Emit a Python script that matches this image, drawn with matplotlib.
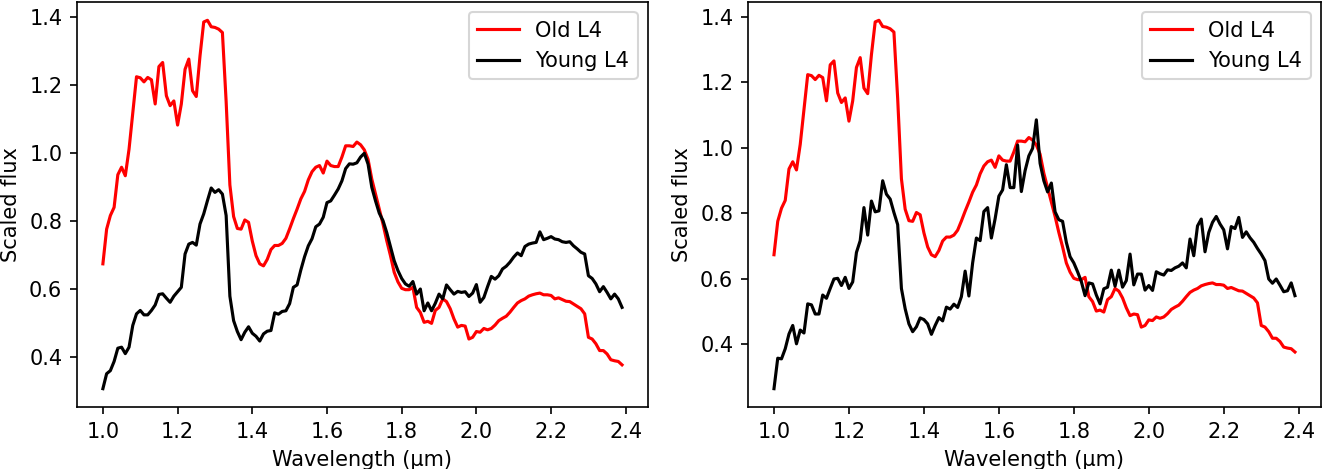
import numpy as np
import matplotlib
matplotlib.use("Agg")
import matplotlib.pyplot as plt

# wavelength grid (um), 0.01 um steps from 1.00 to 2.39
wavelength = np.linspace(1.0, 2.39, 140)

old_l4 = [
    0.673, 0.775, 0.815, 0.839, 0.935, 0.957, 0.932, 1.010, 1.118, 1.223,
    1.220, 1.208, 1.221, 1.214, 1.143, 1.253, 1.265, 1.167, 1.138, 1.152,
    1.081, 1.143, 1.245, 1.275, 1.182, 1.165, 1.284, 1.384, 1.389, 1.370,
    1.368, 1.363, 1.353, 1.150, 0.905, 0.812, 0.777, 0.775, 0.802, 0.795,
    0.740, 0.697, 0.673, 0.667, 0.686, 0.715, 0.727, 0.727, 0.733, 0.748,
    0.776, 0.806, 0.834, 0.864, 0.886, 0.920, 0.944, 0.957, 0.962, 0.940,
    0.975, 0.962, 0.959, 0.959, 0.987, 1.020, 1.020, 1.018, 1.031, 1.023,
    1.008, 0.980, 0.922, 0.878, 0.834, 0.790, 0.741, 0.697, 0.648, 0.620,
    0.601, 0.597, 0.597, 0.604, 0.545, 0.530, 0.501, 0.504, 0.498, 0.536,
    0.545, 0.570, 0.562, 0.541, 0.511, 0.487, 0.492, 0.490, 0.452, 0.457,
    0.474, 0.472, 0.483, 0.479, 0.483, 0.493, 0.506, 0.513, 0.519, 0.531,
    0.545, 0.558, 0.565, 0.570, 0.578, 0.582, 0.585, 0.587, 0.582, 0.582,
    0.580, 0.570, 0.573, 0.568, 0.563, 0.562, 0.555, 0.548, 0.541, 0.526,
    0.457, 0.452, 0.438, 0.418, 0.418, 0.408, 0.391, 0.388, 0.386, 0.376,
]

# smoothed young spectrum (left panel)
young_l4_smooth = [
    0.306, 0.350, 0.359, 0.386, 0.425, 0.428, 0.409, 0.428, 0.492, 0.526,
    0.536, 0.523, 0.523, 0.536, 0.552, 0.583, 0.585, 0.572, 0.560, 0.578,
    0.591, 0.604, 0.702, 0.731, 0.736, 0.728, 0.790, 0.820, 0.859, 0.896,
    0.883, 0.891, 0.878, 0.815, 0.578, 0.506, 0.474, 0.450, 0.472, 0.488,
    0.469, 0.460, 0.446, 0.467, 0.475, 0.477, 0.529, 0.525, 0.533, 0.535,
    0.556, 0.604, 0.611, 0.655, 0.694, 0.726, 0.747, 0.782, 0.790, 0.810,
    0.853, 0.858, 0.875, 0.893, 0.917, 0.953, 0.967, 0.966, 0.970, 0.987,
    0.998, 0.966, 0.898, 0.858, 0.822, 0.800, 0.765, 0.724, 0.682, 0.653,
    0.630, 0.614, 0.607, 0.621, 0.584, 0.599, 0.535, 0.558, 0.535, 0.557,
    0.584, 0.570, 0.611, 0.597, 0.584, 0.592, 0.589, 0.591, 0.577, 0.587,
    0.612, 0.560, 0.574, 0.606, 0.636, 0.628, 0.638, 0.658, 0.666, 0.678,
    0.693, 0.705, 0.697, 0.724, 0.731, 0.734, 0.736, 0.767, 0.744, 0.748,
    0.753, 0.746, 0.744, 0.738, 0.736, 0.738, 0.726, 0.717, 0.707, 0.702,
    0.638, 0.630, 0.614, 0.591, 0.606, 0.589, 0.570, 0.584, 0.570, 0.545,
]

# raw young spectrum (right panel)
young_l4_raw = [
    0.264, 0.357, 0.355, 0.386, 0.431, 0.457, 0.401, 0.443, 0.434, 0.523,
    0.520, 0.492, 0.492, 0.550, 0.540, 0.570, 0.599, 0.601, 0.579, 0.604,
    0.570, 0.590, 0.680, 0.716, 0.817, 0.733, 0.837, 0.804, 0.807, 0.899,
    0.858, 0.843, 0.802, 0.765, 0.570, 0.508, 0.462, 0.438, 0.453, 0.480,
    0.475, 0.462, 0.430, 0.457, 0.481, 0.471, 0.513, 0.507, 0.522, 0.512,
    0.545, 0.623, 0.547, 0.648, 0.724, 0.716, 0.805, 0.817, 0.724, 0.783,
    0.852, 0.871, 0.948, 0.878, 0.878, 1.008, 0.866, 0.930, 0.975, 0.998,
    1.085, 0.952, 0.899, 0.865, 0.892, 0.804, 0.780, 0.775, 0.711, 0.667,
    0.648, 0.621, 0.591, 0.548, 0.587, 0.584, 0.550, 0.523, 0.569, 0.574,
    0.626, 0.577, 0.626, 0.574, 0.594, 0.675, 0.581, 0.614, 0.614, 0.565,
    0.579, 0.564, 0.621, 0.615, 0.611, 0.627, 0.625, 0.633, 0.638, 0.648,
    0.633, 0.721, 0.670, 0.761, 0.782, 0.682, 0.741, 0.772, 0.790, 0.767,
    0.749, 0.691, 0.759, 0.753, 0.787, 0.726, 0.743, 0.725, 0.711, 0.692,
    0.675, 0.655, 0.599, 0.586, 0.599, 0.580, 0.560, 0.563, 0.587, 0.548,
]

fig = plt.figure(figsize=(1338 / 150, 469 / 150), dpi=150)
ax1 = fig.add_axes([0.0575, 0.132, 0.4268, 0.864])
ax2 = fig.add_axes([0.559, 0.132, 0.4283, 0.864])

for ax, young in ((ax1, young_l4_smooth), (ax2, young_l4_raw)):
    ax.plot(wavelength, old_l4, color='red', label='Old L4')
    ax.plot(wavelength, young, color='black', label='Young L4')
    ax.set_xlabel('Wavelength (μm)')
    ax.set_ylabel('Scaled flux')
    ax.legend(loc='upper right')

fig.savefig('out.png', dpi=150)
